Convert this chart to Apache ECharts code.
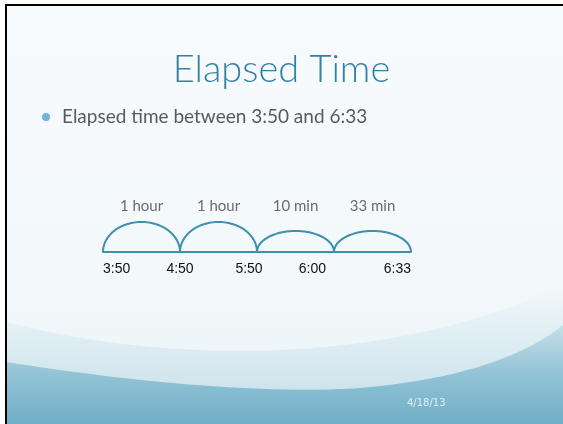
<!DOCTYPE html>
<html>
<head>
<meta charset="utf-8">
<script src="https://cdn.jsdelivr.net/npm/echarts@6/dist/echarts.min.js"></script>
<style>
  html, body { margin: 0; padding: 0; background: #fff; }
  #main { width: 563px; height: 424px; }
</style>
</head>
<body>
<div id="main"></div>
<script>
// time marks on the number line
var times = ['3:50', '4:50', '5:50', '6:00', '6:33'];
// jumps between the marks
var jumps = ['1 hour', '1 hour', '10 min', '33 min'];
// relative height of each jump arc
var arcHeights = [1, 1, 0.7, 0.7];

var lineColor = '#3f8fae';

var myChart = echarts.init(document.getElementById('main'));

// how each time label sits against its tick
var labelStyle = [
  { align: 'left' },
  { align: 'center' },
  { align: 'center', padding: [0, 16, 0, 0] },
  { align: 'right', padding: [0, 8, 0, 0] },
  { align: 'right' }
];

// background swoosh: chained cubic curves, closed along the bottom
function swoosh(segs) {
  var pts = [segs[0][0]];
  segs.forEach(function (s) {
    for (var k = 1; k <= 30; k++) {
      var t = k / 30, u = 1 - t;
      pts.push([
        u * u * u * s[0][0] + 3 * u * u * t * s[1][0] + 3 * u * t * t * s[2][0] + t * t * t * s[3][0],
        u * u * u * s[0][1] + 3 * u * u * t * s[1][1] + 3 * u * t * t * s[2][1] + t * t * t * s[3][1]
      ]);
    }
  });
  pts.push([563, 424], [6, 424]);
  return pts;
}

var option = {
  animation: false,
  backgroundColor: '#fff',
  graphic: [
    {
      type: 'rect', z: -10, silent: true,
      shape: { x: 6, y: 5, width: 557, height: 419 },
      style: {
        fill: new echarts.graphic.LinearGradient(0, 0, 0, 1, [
          { offset: 0, color: '#f8fbfd' },
          { offset: 0.7, color: '#f2f8fa' },
          { offset: 1, color: '#e8f2f6' }
        ])
      }
    },
    {
      type: 'polygon', z: -9, silent: true,
      shape: { points: swoosh([[[6, 322], [150, 360], [380, 372], [563, 285]]]) },
      style: {
        fill: new echarts.graphic.LinearGradient(0, 0, 0, 1, [
          { offset: 0, color: '#f1f8fa' },
          { offset: 1, color: '#c2dde7' }
        ])
      }
    },
    {
      type: 'polygon', z: -8, silent: true,
      shape: {
        points: swoosh([
          [[6, 362], [120, 380], [260, 395], [360, 388]],
          [[360, 388], [450, 380], [520, 360], [563, 325]]
        ])
      },
      style: {
        fill: new echarts.graphic.LinearGradient(0, 0, 0, 1, [
          { offset: 0, color: '#c6dfe9' },
          { offset: 0.5, color: '#92c3d5' },
          { offset: 1, color: '#6eaec7' }
        ])
      }
    },
    {
      type: 'line', z: 5, silent: true,
      shape: { x1: 5, y1: 5, x2: 563, y2: 5 },
      style: { stroke: '#000', lineWidth: 2 }
    },
    {
      type: 'line', z: 5, silent: true,
      shape: { x1: 6, y1: 4, x2: 6, y2: 424 },
      style: { stroke: '#000', lineWidth: 2 }
    },
    {
      type: 'circle', silent: true,
      shape: { cx: 46, cy: 117, r: 4 },
      style: { fill: '#6bb4dc' }
    },
    {
      type: 'text', silent: true,
      x: 62, y: 117,
      style: {
        text: 'Elapsed time between 3:50 and 6:33',
        fill: '#5a5a5a',
        font: '19px Lato, "Noto Sans", sans-serif',
        verticalAlign: 'middle'
      }
    },
    {
      type: 'text', silent: true,
      x: 407, y: 403,
      style: {
        text: '4/18/13',
        fill: '#e2eff4',
        font: '10px "DejaVu Sans", sans-serif',
        verticalAlign: 'middle'
      }
    }
  ],
  title: {
    text: 'Elapsed Time',
    left: 'center',
    top: 46,
    textStyle: {
      color: '#2f82a6',
      fontFamily: 'Lato',
      fontWeight: 300,
      fontSize: 38
    }
  },
  grid: { left: 103, right: 152, top: 222, bottom: 172 },
  xAxis: {
    type: 'category',
    boundaryGap: false,
    data: times.map(function (t, i) {
      return { value: t, textStyle: labelStyle[i] };
    }),
    axisLine: { lineStyle: { color: lineColor, width: 2 } },
    axisTick: { show: false },
    splitLine: { show: false },
    axisLabel: {
      margin: 10,
      color: '#111',
      fontSize: 14,
      fontFamily: '"Liberation Sans", Arial, sans-serif'
    }
  },
  yAxis: {
    type: 'value', min: 0, max: 1, show: false
  },
  series: [{
    type: 'custom',
    silent: true,
    data: arcHeights.map(function (h, i) { return [i, h]; }),
    renderItem: function (params, api) {
      var i = api.value(0);
      var h = api.value(1);
      var a = api.coord([i, 0]);
      var b = api.coord([i + 1, 0]);
      var top = api.coord([i, h]);
      var labelY = api.coord([i, 1])[1] - 16;
      var cx = (a[0] + b[0]) / 2;
      var rx = (b[0] - a[0]) / 2;
      var ry = a[1] - top[1];
      var pts = [];
      for (var k = 0; k <= 40; k++) {
        var t = Math.PI * k / 40;
        pts.push([cx - rx * Math.cos(t), a[1] - ry * Math.sin(t)]);
      }
      return {
        type: 'group',
        children: [
          {
            type: 'polyline',
            shape: { points: pts },
            style: { stroke: lineColor, lineWidth: 2, fill: null }
          },
          {
            type: 'text',
            x: cx, y: labelY,
            style: {
              text: jumps[params.dataIndex],
              fill: '#6b6b6b',
              font: '15px Lato, "Noto Sans", sans-serif',
              align: 'center',
              verticalAlign: 'middle'
            }
          }
        ]
      };
    }
  }]
};

myChart.setOption(option);
</script>
</body>
</html>
